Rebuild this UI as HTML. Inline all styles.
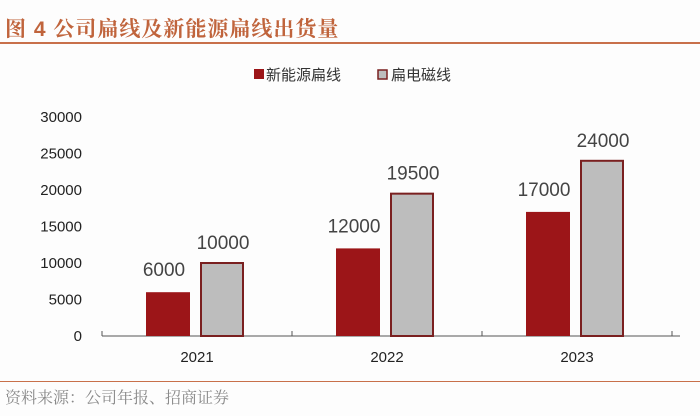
<!DOCTYPE html>
<html><head><meta charset="utf-8"><style>
body{margin:0;background:#fff;}
#wrap{position:relative;width:700px;height:416px;background:#fdfdfd;font-family:"Liberation Sans","Noto Sans CJK SC",sans-serif;overflow:hidden}
#title{position:absolute;left:5px;top:13px;font-size:21px;font-weight:bold;color:#c0643c;font-family:"Liberation Sans","Noto Serif CJK SC",serif;letter-spacing:1px}
#tline{position:absolute;left:0;top:42px;width:700px;height:2px;background:#c8704a}
#bline{position:absolute;left:0;top:381px;width:700px;height:1px;background:#c8704a}
#src{position:absolute;left:5px;top:385px;font-size:16px;color:#888;font-family:"Liberation Serif","Noto Serif CJK SC",serif}
</style></head><body>
<div id="wrap">
<div id="title">图 4 公司扁线及新能源扁线出货量</div>
<div id="tline"></div>
<svg id="chart" width="700" height="416" style="position:absolute;left:0;top:0"></svg>
<div id="bline"></div>
<div id="src">资料来源：公司年报、招商证券</div>
</div>
<script>
const categories=["2021","2022","2023"];
const seriesNames=["新能源扁线","扁电磁线"];
const nevValues=[6000,12000,17000];
const magnetValues=[10000,19500,24000];
const yTicks=[0,5000,10000,15000,20000,25000,30000];
const NS="http://www.w3.org/2000/svg";
const svg=document.getElementById('chart');
const x0=102,x1=680,y0=336,y1=117,ymax=30000,band=190;
function ys(v){return y0-(v/ymax)*(y0-y1);}
function xc(i){return x0+band*(i+0.5);}
function mk(t,a,txt){const e=document.createElementNS(NS,t);for(const k in a)e.setAttribute(k,a[k]);if(txt!=null)e.textContent=txt;svg.appendChild(e);return e;}
yTicks.forEach(v=>{const t=mk('text',{x:82,y:ys(v)+5,'text-anchor':'end','font-size':15,fill:'#222'},v);

});
const ax=mk('line',{x1:x0,x2:x1,y1:y0,y2:y0,stroke:'#555','stroke-width':1});


for(let i=0;i<=categories.length;i++){const xx=Math.min(x0+band*i,x1);const tk=mk('line',{x1:xx,x2:xx,y1:y0,y2:y0-5,stroke:'#555'});

}
categories.forEach((c,i)=>{
 const l=mk('text',{x:xc(i),y:y0+26,'text-anchor':'middle','font-size':15,fill:'#222'},c);
 
 
 const w=44;
 const rx=xc(i)-51;
 const r=mk('rect',{x:rx,y:ys(nevValues[i]),width:w,height:y0-ys(nevValues[i]),fill:'#9c1518'});
 
 
 const g=mk('rect',{x:xc(i)+4,y:ys(magnetValues[i]),width:w-2,height:y0-ys(magnetValues[i]),fill:'#bdbdbd',stroke:'#7a2020','stroke-width':2});
 
 
 const t1=mk('text',{x:rx+w/2-4,y:ys(nevValues[i])-16,'text-anchor':'middle','font-size':19,fill:'#444'},nevValues[i]);
 
 
 const t2=mk('text',{x:xc(i)+26,y:ys(magnetValues[i])-14,'text-anchor':'middle','font-size':19,fill:'#444'},magnetValues[i]);
 
 
});
const ls1=mk('rect',{x:254,y:69,width:10,height:10,fill:'#9c1518'});


const lt1=mk('text',{x:266,y:80,'font-size':15,fill:'#333'},seriesNames[0]);


const ls2=mk('rect',{x:378,y:70,width:9,height:9,fill:'#bdbdbd',stroke:'#7a2020','stroke-width':1.5});


const lt2=mk('text',{x:391,y:80,'font-size':15,fill:'#333'},seriesNames[1]);


</script>
</body></html>
